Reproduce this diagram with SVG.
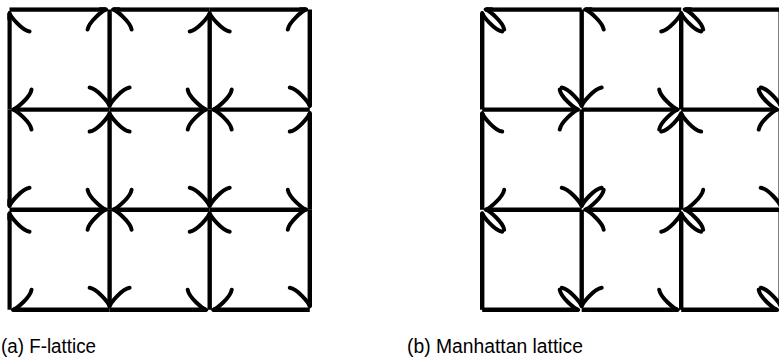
<svg xmlns="http://www.w3.org/2000/svg" width="779" height="358" viewBox="0 0 779 358">
  <style>
    .edge { stroke: #000; stroke-width: 4.4; stroke-linecap: butt; fill: none; marker-end: url(#tip); }
    .caption { font-family: "Liberation Sans", Arial, sans-serif; font-size: 20px; fill: #000; }
  </style>
  <defs>
    <!-- curved "to"-style arrow tip; tip point at (0,0), shaft along +x -->
    <marker id="tip" markerUnits="userSpaceOnUse" orient="auto" refX="0" refY="0"
            markerWidth="60" markerHeight="60" overflow="visible">
      <path d="M -18.5,20 C -17.3,12.3 -3.7,1.2 0,0 C -3.7,-1.2 -17.3,-12.3 -18.5,-20"
            fill="none" stroke="#000" stroke-width="4" stroke-linecap="round" stroke-linejoin="round"/>
    </marker>
    <clipPath id="clipF"><rect x="7.3" y="7.3" width="304.7" height="304.7"/></clipPath>
    <clipPath id="clipM"><rect x="480" y="7.3" width="310" height="304.7"/></clipPath>
  </defs>

  <!-- F-lattice: each edge is an arrow toward one of its endpoints -->
  <g id="f-lattice" clip-path="url(#clipF)">
    <g id="f-connectors">
      <!-- horizontal edges -->
      <line class="edge" x1="9.5" y1="9.5" x2="106.1" y2="9.5"/>
      <line class="edge" x1="209.7" y1="9.5" x2="113.1" y2="9.5"/>
      <line class="edge" x1="209.7" y1="9.5" x2="306.3" y2="9.5"/>
      <line class="edge" x1="109.6" y1="109.6" x2="13" y2="109.6"/>
      <line class="edge" x1="109.6" y1="109.6" x2="206.2" y2="109.6"/>
      <line class="edge" x1="309.8" y1="109.6" x2="213.2" y2="109.6"/>
      <line class="edge" x1="9.5" y1="209.7" x2="106.1" y2="209.7"/>
      <line class="edge" x1="209.7" y1="209.7" x2="113.1" y2="209.7"/>
      <line class="edge" x1="209.7" y1="209.7" x2="306.3" y2="209.7"/>
      <line class="edge" x1="109.6" y1="309.8" x2="13" y2="309.8"/>
      <line class="edge" x1="109.6" y1="309.8" x2="206.2" y2="309.8"/>
      <line class="edge" x1="309.8" y1="309.8" x2="213.2" y2="309.8"/>
      <!-- vertical edges -->
      <line class="edge" x1="9.5" y1="109.6" x2="9.5" y2="13"/>
      <line class="edge" x1="9.5" y1="109.6" x2="9.5" y2="206.2"/>
      <line class="edge" x1="9.5" y1="309.8" x2="9.5" y2="213.2"/>
      <line class="edge" x1="109.6" y1="9.5" x2="109.6" y2="106.1"/>
      <line class="edge" x1="109.6" y1="209.7" x2="109.6" y2="113.1"/>
      <line class="edge" x1="109.6" y1="209.7" x2="109.6" y2="306.3"/>
      <line class="edge" x1="209.7" y1="109.6" x2="209.7" y2="13"/>
      <line class="edge" x1="209.7" y1="109.6" x2="209.7" y2="206.2"/>
      <line class="edge" x1="209.7" y1="309.8" x2="209.7" y2="213.2"/>
      <line class="edge" x1="309.8" y1="9.5" x2="309.8" y2="106.1"/>
      <line class="edge" x1="309.8" y1="209.7" x2="309.8" y2="113.1"/>
      <line class="edge" x1="309.8" y1="209.7" x2="309.8" y2="306.3"/>
    </g>
  </g>

  <!-- Manhattan lattice: rows alternate left/right, columns alternate up/down -->
  <g id="manhattan-lattice" clip-path="url(#clipM)">
    <g id="m-connectors">
      <!-- row 0: left -->
      <line class="edge" x1="581.7" y1="9.5" x2="485.7" y2="9.5"/>
      <line class="edge" x1="681.2" y1="9.5" x2="585.2" y2="9.5"/>
      <line class="edge" x1="780.7" y1="9.5" x2="684.7" y2="9.5"/>
      <!-- row 1: right -->
      <line class="edge" x1="482.2" y1="109.6" x2="578.2" y2="109.6"/>
      <line class="edge" x1="581.7" y1="109.6" x2="677.7" y2="109.6"/>
      <line class="edge" x1="681.2" y1="109.6" x2="777.2" y2="109.6"/>
      <!-- row 2: left -->
      <line class="edge" x1="581.7" y1="209.7" x2="485.7" y2="209.7"/>
      <line class="edge" x1="681.2" y1="209.7" x2="585.2" y2="209.7"/>
      <line class="edge" x1="780.7" y1="209.7" x2="684.7" y2="209.7"/>
      <!-- row 3: right -->
      <line class="edge" x1="482.2" y1="309.8" x2="578.2" y2="309.8"/>
      <line class="edge" x1="581.7" y1="309.8" x2="677.7" y2="309.8"/>
      <line class="edge" x1="681.2" y1="309.8" x2="777.2" y2="309.8"/>
      <!-- column 0: up -->
      <line class="edge" x1="482.2" y1="109.6" x2="482.2" y2="13"/>
      <line class="edge" x1="482.2" y1="209.7" x2="482.2" y2="113.1"/>
      <line class="edge" x1="482.2" y1="309.8" x2="482.2" y2="213.2"/>
      <!-- column 1: down -->
      <line class="edge" x1="581.7" y1="9.5" x2="581.7" y2="106.1"/>
      <line class="edge" x1="581.7" y1="109.6" x2="581.7" y2="206.2"/>
      <line class="edge" x1="581.7" y1="209.7" x2="581.7" y2="306.3"/>
      <!-- column 2: up -->
      <line class="edge" x1="681.2" y1="109.6" x2="681.2" y2="13"/>
      <line class="edge" x1="681.2" y1="209.7" x2="681.2" y2="113.1"/>
      <line class="edge" x1="681.2" y1="309.8" x2="681.2" y2="213.2"/>
      <!-- column 3: down -->
      <line class="edge" x1="780.7" y1="9.5" x2="780.7" y2="106.1"/>
      <line class="edge" x1="780.7" y1="109.6" x2="780.7" y2="206.2"/>
      <line class="edge" x1="780.7" y1="209.7" x2="780.7" y2="306.3"/>
    </g>
  </g>

  <g id="captions">
    <text class="caption" x="1" y="353" textLength="95" lengthAdjust="spacingAndGlyphs">(a) F-lattice</text>
    <text class="caption" x="407" y="353" textLength="176" lengthAdjust="spacingAndGlyphs">(b) Manhattan lattice</text>
  </g>
</svg>
